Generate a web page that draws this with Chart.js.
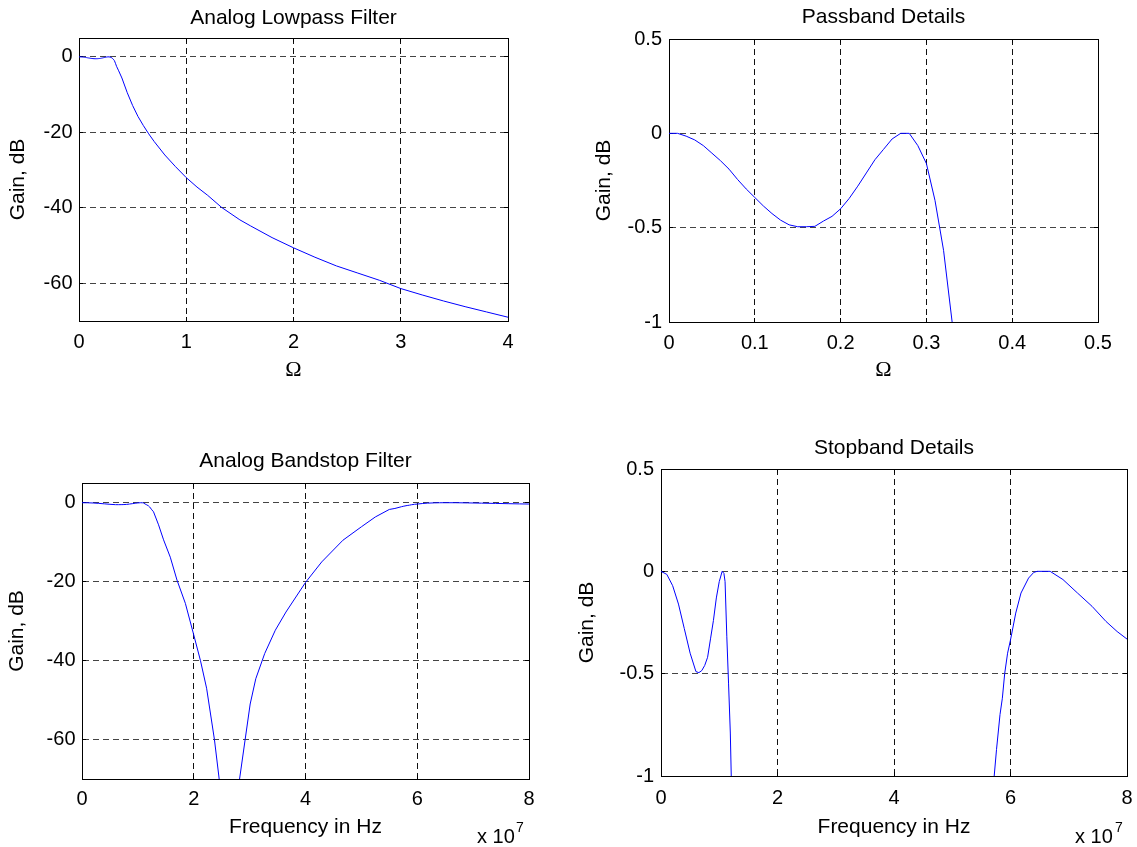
<!DOCTYPE html>
<html>
<head>
<meta charset="utf-8">
<script src="https://cdn.jsdelivr.net/npm/chart.js@4.4.1/dist/chart.umd.min.js"></script>
<style>
html,body{margin:0;padding:0;background:#fff;overflow:hidden;width:1137px;height:847px;}
.c{position:absolute;}
.exp{position:absolute;font-family:"Liberation Sans",Arial,Helvetica,sans-serif;color:#000;white-space:nowrap;}
</style>
</head>
<body>
<div class="c" style="left:0px;top:0px"><canvas id="c1" width="560" height="400"></canvas></div>
<div class="c" style="left:570px;top:0px"><canvas id="c2" width="567" height="400"></canvas></div>
<div class="c" style="left:0px;top:430px"><canvas id="c3" width="560" height="417"></canvas></div>
<div class="c" style="left:570px;top:430px"><canvas id="c4" width="567" height="417"></canvas></div>
<div class="exp" style="left:477px;top:826px;font-size:20px;line-height:20px">x 10</div>
<div class="exp" style="left:516px;top:820px;font-size:14px;line-height:14px">7</div>
<div class="exp" style="left:1075px;top:826px;font-size:20px;line-height:20px">x 10</div>
<div class="exp" style="left:1115px;top:820px;font-size:14px;line-height:14px">7</div>
<script>
// ---- Data ----
// Analog lowpass prototype (Omega, gain in dB)
const lpOmega = [0,0.01,0.02,0.03,0.04,0.05,0.06,0.07,0.08,0.09,0.10,0.11,0.12,0.13,0.14,0.15,0.16,0.17,0.18,0.19,0.20,0.21,0.22,0.23,0.24,0.25,0.26,0.27,0.28,0.29,0.30,0.31,0.32,0.33,
  0.34,0.35,0.37,0.40,0.45,0.50,0.55,0.60,0.65,0.70,0.80,0.90,1.0,1.1,1.2,1.33,1.5,1.6,1.8,2.0,2.2,2.4,2.6,2.8,3.0,3.2,3.4,3.6,3.8,4.0];
const lpGain = [0,0,-0.015,-0.035,-0.065,-0.105,-0.145,-0.19,-0.245,-0.295,-0.34,-0.385,-0.425,-0.46,-0.485,-0.495,-0.495,-0.493,-0.465,-0.44,-0.40,-0.345,-0.28,-0.21,-0.14,-0.085,-0.03,0,0,-0.065,-0.16,-0.355,-0.62,-1.0,
  -1.7,-2.5,-3.7,-5.6,-9.5,-12.9,-15.8,-18.2,-20.4,-22.4,-26.0,-29.1,-32.0,-34.5,-36.7,-39.9,-43.2,-44.8,-47.9,-50.6,-53.1,-55.4,-57.3,-59.2,-61.4,-63.1,-64.7,-66.2,-67.6,-69.0];

// Analog bandstop filter (frequency in Hz, gain in dB)
const bsFreq = [0,0.1e7,0.2e7,0.3e7,0.4e7,0.5e7,0.6e7,0.65e7,0.7e7,0.75e7,0.8e7,0.85e7,0.9e7,0.95e7,1.0e7,1.05e7,1.08e7,1.1e7,1.13e7,1.16e7,1.19e7,1.21e7,1.25e7,1.28e7,1.37e7,1.46e7,1.58e7,1.70e7,1.85e7,2.0e7,2.12e7,2.23e7,2.37e7,2.455e7,2.55e7,2.64e7,2.73e7,2.82e7,2.92e7,3.01e7,3.11e7,3.27e7,3.46e7,3.65e7,4.0e7,4.29e7,4.67e7,5.0e7,5.25e7,5.5e7,5.6e7,5.72e7,5.76e7,5.82e7,5.86e7,5.9e7,5.95e7,6.0e7,6.09e7,6.18e7,6.31e7,6.4e7,6.46e7,6.68e7,6.9e7,7.15e7,7.4e7,7.64e7,7.83e7,8.0e7];
const bsGain = [0,-0.015,-0.07,-0.16,-0.28,-0.40,-0.49,-0.495,-0.485,-0.46,-0.42,-0.33,-0.24,-0.13,-0.05,0,-0.01,-0.05,-0.32,-0.55,-0.79,-1.05,-1.8,-2.3,-5.6,-9.4,-13.8,-19.6,-25.5,-33.5,-40,-47,-60,-70,-82,-100,-82,-70,-60,-51,-44.6,-38.2,-32.3,-27.7,-20.2,-15,-9.5,-6.1,-3.6,-1.7,-1.45,-1.0,-0.87,-0.70,-0.62,-0.5,-0.40,-0.335,-0.204,-0.106,-0.033,-0.005,0,0,-0.04,-0.106,-0.171,-0.245,-0.294,-0.331];

// Tick values
const lpXTicks = [0,1,2,3,4];
const lpYTicks = [-60,-40,-20,0];
const pbXTicks = [0,0.1,0.2,0.3,0.4,0.5];
const pbYTicks = [-1,-0.5,0,0.5];
const bsXTicks = [0,2e7,4e7,6e7,8e7];
const bsYTicks = [-60,-40,-20,0];
const sbYTicks = [-1,-0.5,0,0.5];

// Texts
const titles = ['Analog Lowpass Filter','Passband Details','Analog Bandstop Filter','Stopband Details'];
const xLabelOmega = '\u03A9';
const xLabelFreq = 'Frequency in Hz';
const yLabel = 'Gain, dB';

const SANS = '"Liberation Sans", Arial, Helvetica, sans-serif';
const SERIF = '"Liberation Serif", "Times New Roman", serif';
const TICK_IN = 4;   // inward tick mark length (px)

function zeroPad(s) { s.paddingLeft = 0; s.paddingRight = 0; s.paddingTop = 0; s.paddingBottom = 0; }

function makeChart(id, g) {
  const yW = g.L - g.left;
  const xH = (g.top + g.h) - g.B;
  const tH = g.T - g.top;
  const padR = (g.left + g.w) - g.R;
  const tickFont = {family: SANS, size: 20};
  const inGrid = {display: true, drawOnChartArea: false, drawTicks: true, tickLength: -TICK_IN, tickColor: '#000', tickWidth: 1};
  new Chart(document.getElementById(id), {
    type: 'line',
    data: {
      datasets: [{
        data: g.xs.map((x, i) => ({x: x, y: g.ys[i]})),
        borderColor: '#0000ff', borderWidth: 1, pointRadius: 0, tension: 0, fill: false,
        xAxisID: 'x', yAxisID: 'y'
      }]
    },
    options: {
      responsive: false, animation: false, devicePixelRatio: 1,
      events: [],
      layout: {padding: {left: 0, top: 0, bottom: 0, right: padR}},
      plugins: {legend: {display: false}, tooltip: {enabled: false}, title: {display: false}},
      scales: {
        x: {
          type: 'linear', position: 'bottom', min: g.xmin, max: g.xmax,
          afterBuildTicks: s => { s.ticks = g.xt.map(v => ({value: v})); },
          afterFit: s => { s.height = xH; zeroPad(s); },
          ticks: {font: tickFont, color: '#000', padding: g.xtPad + TICK_IN, maxRotation: 0, minRotation: 0, autoSkip: false,
                  callback: v => String(+(v / g.xdiv).toFixed(3))},
          grid: {color: '#111', lineWidth: 1, drawTicks: true, tickLength: -TICK_IN, tickColor: '#000', tickWidth: 1},
          border: {display: true, color: '#000', width: 1, dash: [6, 4]},
          title: {display: true, text: g.xlabel, color: '#000', font: g.xlFont, padding: {top: 0, bottom: g.xlPad}}
        },
        y: {
          type: 'linear', position: 'left', min: g.ymin, max: g.ymax,
          afterBuildTicks: s => { s.ticks = g.yt.map(v => ({value: v})); },
          afterFit: s => { s.width = yW; zeroPad(s); },
          ticks: {font: tickFont, color: '#000', padding: g.ytPad + TICK_IN, autoSkip: false,
                  callback: v => String(v)},
          grid: {color: '#444', lineWidth: 1, drawTicks: true, tickLength: -TICK_IN, tickColor: '#000', tickWidth: 1},
          border: {display: true, color: '#000', width: 1, dash: [6, 4]},
          title: {display: true, text: yLabel, color: '#000', font: {family: SANS, size: 21}, padding: {top: g.ylPad, bottom: 0}}
        },
        top: {
          type: 'linear', position: 'top', display: true, min: g.xmin, max: g.xmax,
          afterBuildTicks: s => { s.ticks = g.xt.map(v => ({value: v})); },
          afterFit: s => { s.height = tH; zeroPad(s); },
          ticks: {display: false},
          grid: inGrid,
          border: {display: true, color: '#000', width: 1},
          title: {display: true, text: g.title, color: '#000', font: {family: SANS, size: 21}, padding: {top: g.tPad, bottom: 0}}
        },
        right: {
          type: 'linear', position: 'right', display: true, min: g.ymin, max: g.ymax,
          afterBuildTicks: s => { s.ticks = g.yt.map(v => ({value: v})); },
          afterFit: s => { s.width = 0; zeroPad(s); },
          ticks: {display: false},
          grid: inGrid,
          border: {display: true, color: '#000', width: 1}
        }
      }
    }
  });
}

makeChart('c1', {left: 0, top: 0, w: 560, h: 400, L: 79, T: 38, R: 508, B: 321,
  xs: lpOmega, ys: lpGain, xmin: 0, xmax: 4, ymin: -70, ymax: 5, xt: lpXTicks, yt: lpYTicks, xdiv: 1,
  title: titles[0], xlabel: xLabelOmega, xlFont: {family: SERIF, size: 22}, xlPad: 16.5,
  xtPad: 9, ytPad: 6.5, ylPad: 6, tPad: 5.4});

makeChart('c2', {left: 570, top: 0, w: 567, h: 400, L: 669, T: 39, R: 1098, B: 322,
  xs: lpOmega, ys: lpGain, xmin: 0, xmax: 0.5, ymin: -1, ymax: 0.5, xt: pbXTicks, yt: pbYTicks, xdiv: 1,
  title: titles[1], xlabel: xLabelOmega, xlFont: {family: SERIF, size: 22}, xlPad: 16.5,
  xtPad: 9, ytPad: 7, ylPad: 21.5, tPad: 5});

makeChart('c3', {left: 0, top: 430, w: 560, h: 417, L: 82, T: 483, R: 529, B: 779,
  xs: bsFreq, ys: bsGain, xmin: 0, xmax: 8e7, ymin: -70, ymax: 5, xt: bsXTicks, yt: bsYTicks, xdiv: 1e7,
  title: titles[2], xlabel: xLabelFreq, xlFont: {family: SANS, size: 21}, xlPad: 7.5,
  xtPad: 8.5, ytPad: 6.5, ylPad: 5, tPad: 18.8});

makeChart('c4', {left: 570, top: 430, w: 567, h: 417, L: 661, T: 469, R: 1127, B: 776,
  xs: bsFreq, ys: bsGain, xmin: 0, xmax: 8e7, ymin: -1, ymax: 0.5, xt: bsXTicks, yt: sbYTicks, xdiv: 1e7,
  title: titles[3], xlabel: xLabelFreq, xlFont: {family: SANS, size: 21}, xlPad: 7.5,
  xtPad: 10, ytPad: 7, ylPad: 5, tPad: 5.4});
</script>
</body>
</html>
